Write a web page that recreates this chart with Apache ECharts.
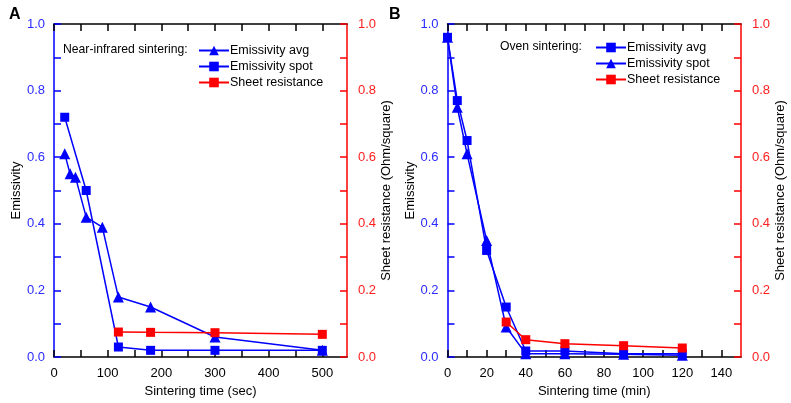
<!DOCTYPE html>
<html><head><meta charset="utf-8">
<script src="https://cdn.jsdelivr.net/npm/echarts@6/dist/echarts.min.js"></script>
<style>html,body{margin:0;padding:0;background:#fff}#c{width:791px;height:403px}</style>
</head><body><div id="c"></div>
<script>
// Panel A (near-infrared sintering, time in sec)
const timeA_avg = [20, 30, 40, 60, 90, 120, 180, 300, 500];
const avgA      = [0.61, 0.55, 0.54, 0.42, 0.39, 0.18, 0.15, 0.06, 0.02];
const timeA_spot = [20, 60, 120, 180, 300, 500];
const spotA      = [0.72, 0.50, 0.03, 0.02, 0.02, 0.02];
const timeA_res = [120, 180, 300, 500];
const resA      = [0.075, 0.074, 0.073, 0.068];
// Panel B (oven sintering, time in min)
const timeB     = [0, 5, 10, 20, 30, 40, 60, 90, 120];
const avgB      = [0.96, 0.77, 0.65, 0.32, 0.15, 0.018, 0.018, 0.01, 0.01];
const spotB     = [0.96, 0.75, 0.61, 0.35, 0.09, 0.01, 0.01, 0.008, 0.005];
const timeB_res = [30, 40, 60, 90, 120];
const resB      = [0.105, 0.052, 0.04, 0.034, 0.027];
// ticks
const xTicksA  = [0,50,100,150,200,250,300,350,400,450,500];
const xLabelsA = [0,100,200,300,400,500];
const xTicksB  = [0,10,20,30,40,50,60,70,80,90,100,110,120,130,140];
const xLabelsB = [0,20,40,60,80,100,120,140];
const yTicks   = [0,0.1,0.2,0.3,0.4,0.5,0.6,0.7,0.8,0.9,1.0];
const yLabels  = [0,0.2,0.4,0.6,0.8,1.0];

const BLUE = '#0000ff', RED = '#ff0000', FONT = 'Liberation Sans';
const TL = 7;
const zip = (xs, ys) => xs.map((x, i) => [x, ys[i]]);

function xAxes(grid, max, ticks, labels, name) {
  return [{
    type: 'value', gridIndex: grid, position: 'bottom', min: 0, max: max,
    name: name, nameLocation: 'middle', nameGap: 19,
    nameTextStyle: {fontFamily: FONT, fontSize: 13, color: '#000'},
    axisLine: {show: true, onZero: false, lineStyle: {color: '#000', width: 1.5}},
    axisTick: {show: true, inside: true, length: TL, customValues: ticks, lineStyle: {color: '#000', width: 1.5}},
    axisLabel: {customValues: labels, margin: 10, fontFamily: FONT, fontSize: 13, color: '#000'},
    splitLine: {show: false}
  }, {
    type: 'value', gridIndex: grid, position: 'top', min: 0, max: max,
    axisLine: {show: true, onZero: false, lineStyle: {color: '#000', width: 1.5}},
    axisTick: {show: true, inside: true, length: TL, customValues: ticks, lineStyle: {color: '#000', width: 1.5}},
    axisLabel: {show: false},
    splitLine: {show: false}
  }];
}
function yAxes(grid, gapL, gapR) {
  const fmt = v => v.toFixed(1);
  return [{
    type: 'value', gridIndex: grid, position: 'left', min: 0, max: 1,
    name: 'Emissivity', nameLocation: 'middle', nameGap: gapL,
    nameTextStyle: {fontFamily: FONT, fontSize: 13, color: '#000'},
    axisLine: {show: true, onZero: false, lineStyle: {color: BLUE, width: 1.5}},
    axisTick: {show: true, inside: true, length: TL, customValues: yTicks, lineStyle: {color: BLUE, width: 1.5}},
    axisLabel: {customValues: yLabels, formatter: fmt, margin: 9, fontFamily: FONT, fontSize: 13, color: '#2b2bff'},
    splitLine: {show: false}
  }, {
    type: 'value', gridIndex: grid, position: 'right', min: 0, max: 1,
    name: 'Sheet resistance (Ohm/square)', nameLocation: 'middle', nameGap: gapR,
    nameTextStyle: {fontFamily: FONT, fontSize: 13, color: '#000'},
    axisLine: {show: true, onZero: false, lineStyle: {color: RED, width: 1.5}},
    axisTick: {show: true, inside: true, length: TL, customValues: yTicks, lineStyle: {color: RED, width: 1.5}},
    axisLabel: {customValues: yLabels, formatter: fmt, margin: 11, fontFamily: FONT, fontSize: 13, color: '#ff2020'},
    splitLine: {show: false}
  }];
}
function ser(name, xi, yi, data, color, symbol, size) {
  return {
    name: name, type: 'line', xAxisIndex: xi, yAxisIndex: yi, data: data,
    symbol: symbol, symbolSize: size, showSymbol: true,
    lineStyle: {color: color, width: 1.5}, itemStyle: {color: color},
    emphasis: {disabled: true}, animation: false
  };
}
function legend(left, top, names) {
  return {
    left: left, top: top, orient: 'vertical', itemGap: 3, padding: 0,
    itemWidth: 30, itemHeight: 12, data: names,
    formatter: n => n.slice(3), selectedMode: false,
    textStyle: {fontFamily: FONT, fontSize: 12.5, color: '#000', padding: [0,0,0,-4]}
  };
}

const chart = echarts.init(document.getElementById('c'), null, {renderer: 'canvas'});
chart.setOption({
  animation: false,
  grid: [
    {left: 54, top: 24, width: 293, height: 333},
    {left: 447.5, top: 24, width: 293.5, height: 333}
  ],
  xAxis: [].concat(
    xAxes(0, 546, xTicksA, xLabelsA, 'Sintering time (sec)'),
    xAxes(1, 150, xTicksB, xLabelsB, 'Sintering time (min)')
  ),
  yAxis: [].concat(yAxes(0, 31, 30), yAxes(1, 31, 27)),
  legend: [
    legend(198, 44, ['A: Emissivity avg', 'A: Emissivity spot', 'A: Sheet resistance']),
    legend(595, 41, ['B: Emissivity avg', 'B: Emissivity spot', 'B: Sheet resistance'])
  ],
  graphic: [
    {type: 'text', left: 9, top: 7, style: {text: 'A', font: 'bold 16px "Liberation Sans"', fill: '#000'}},
    {type: 'text', left: 389, top: 7, style: {text: 'B', font: 'bold 16px "Liberation Sans"', fill: '#000'}},
    {type: 'text', left: 63, top: 44, style: {text: 'Near-infrared sintering:', font: '12.2px "Liberation Sans"', fill: '#000'}},
    {type: 'text', left: 500, top: 41, style: {text: 'Oven sintering:', font: '12.2px "Liberation Sans"', fill: '#000'}}
  ],
  series: [
    ser('A: Emissivity avg', 0, 0, zip(timeA_avg, avgA), BLUE, 'triangle', 11),
    ser('A: Emissivity spot', 0, 0, zip(timeA_spot, spotA), BLUE, 'rect', 9),
    ser('A: Sheet resistance', 0, 1, zip(timeA_res, resA), RED, 'rect', 9),
    ser('B: Emissivity avg', 2, 2, zip(timeB, avgB), BLUE, 'rect', 9),
    ser('B: Emissivity spot', 2, 2, zip(timeB, spotB), BLUE, 'triangle', 11),
    ser('B: Sheet resistance', 2, 3, zip(timeB_res, resB), RED, 'rect', 9)
  ]
});
</script></body></html>
